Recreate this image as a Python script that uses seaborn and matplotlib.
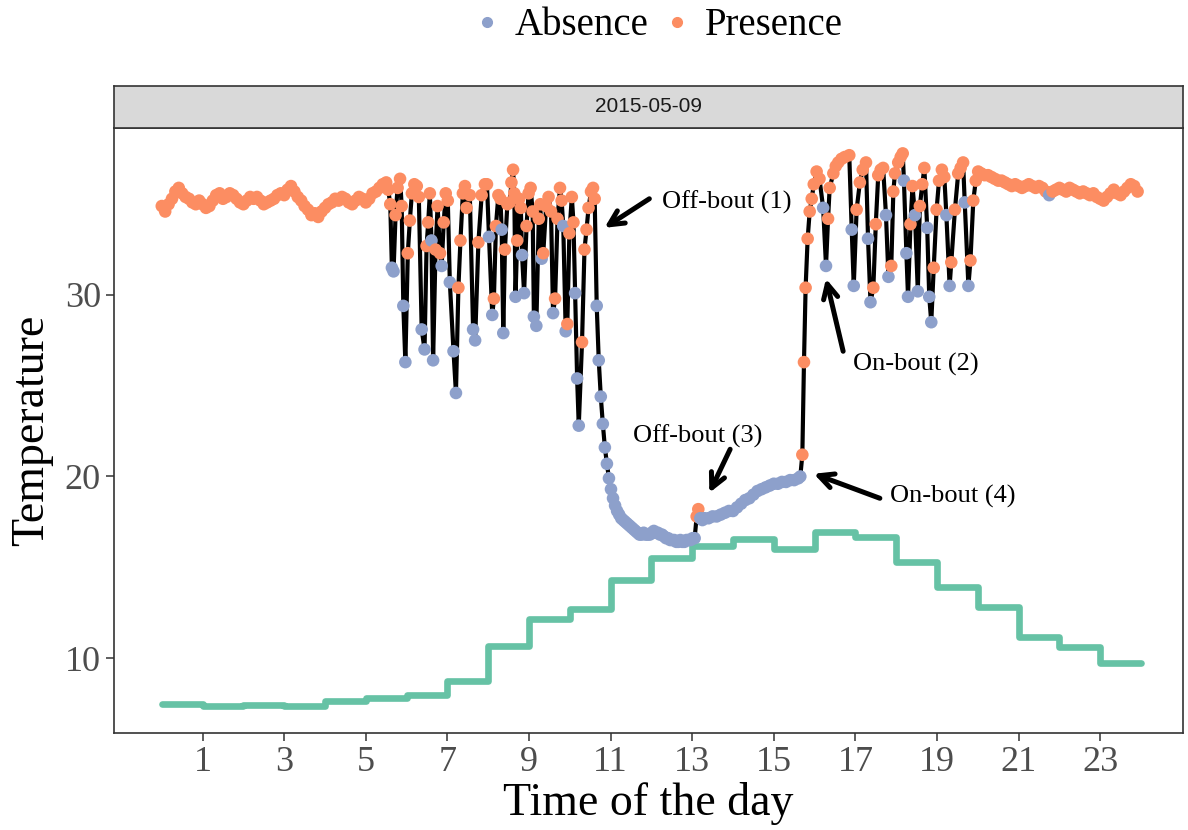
import numpy as np
import pandas as pd
import matplotlib
matplotlib.use("Agg")
import matplotlib.pyplot as plt
from matplotlib.lines import Line2D
import seaborn as sns

# ---- nest temperature, 2015-05-09 ----
# night: one reading every 5 min from 00:00, bird on the nest the whole time
night_temp = [34.9, 34.6, 35.0, 35.3, 35.7, 35.9, 35.6, 35.4, 35.3, 35.1,
              35.0, 35.2, 35.0, 34.8, 34.9, 35.2, 35.5, 35.6, 35.3, 35.4,
              35.6, 35.5, 35.3, 35.1, 35.0, 35.2, 35.4, 35.3, 35.4, 35.2,
              35.0, 35.1, 35.2, 35.3, 35.5, 35.6, 35.5, 35.8, 36.0, 35.7,
              35.4, 35.2, 34.9, 34.7, 34.4, 34.5, 34.3, 34.6, 34.8, 35.0,
              35.1, 35.3, 35.2, 35.4, 35.3, 35.1, 35.0, 35.2, 35.4, 35.3,
              35.1, 35.3, 35.6, 35.7, 35.9, 36.1]

# morning incubation bouts
am_time = [5.50, 5.55, 5.60, 5.64, 5.68, 5.73, 5.78, 5.84, 5.88, 5.92,
           5.97, 6.03, 6.08, 6.13, 6.19, 6.25, 6.30, 6.37, 6.44, 6.49,
           6.53, 6.57, 6.61, 6.65, 6.71, 6.76, 6.82, 6.86, 6.91, 6.96,
           7.01, 7.06, 7.15, 7.21, 7.27, 7.32, 7.38, 7.43, 7.47, 7.55,
           7.63, 7.68, 7.76, 7.84, 7.92, 7.97, 8.02, 8.10, 8.14, 8.19,
           8.25, 8.30, 8.33, 8.37, 8.41, 8.47, 8.53, 8.57, 8.61, 8.64,
           8.67, 8.71, 8.76, 8.80, 8.83, 8.88, 8.94, 8.99, 9.04, 9.09,
           9.12, 9.18, 9.24, 9.28, 9.31, 9.35, 9.42, 9.48, 9.54, 9.59,
           9.64, 9.70, 9.76, 9.80, 9.84, 9.90, 9.94, 9.99, 10.05, 10.09,
           10.13, 10.18, 10.22, 10.30, 10.36, 10.41, 10.46, 10.52, 10.57, 10.61]
am_temp = [36.2, 35.8, 35.0, 31.5, 31.3, 34.4, 35.9, 36.4, 34.9, 29.4,
           26.3, 32.3, 34.1, 35.6, 36.1, 36.0, 35.4, 28.1, 27.0, 32.7,
           34.0, 35.6, 33.0, 26.4, 32.5, 34.9, 32.3, 31.6, 34.0, 35.6,
           35.2, 30.7, 26.9, 24.6, 30.4, 33.0, 35.6, 36.0, 34.8, 35.5,
           28.1, 27.5, 32.9, 35.5, 36.1, 36.1, 33.2, 28.9, 29.8, 33.8,
           35.5, 35.3, 33.6, 27.9, 32.5, 35.0, 35.1, 36.2, 36.9, 35.6,
           29.9, 33.0, 35.3, 34.8, 32.2, 30.1, 33.8, 35.6, 35.9, 34.6,
           28.8, 28.3, 34.2, 35.0, 32.0, 32.3, 34.9, 35.4, 34.6, 29.0,
           29.8, 34.2, 35.9, 35.2, 33.8, 28.0, 28.4, 33.4, 35.4, 34.0,
           30.1, 25.4, 22.8, 27.4, 32.5, 33.6, 34.8, 35.7, 35.9, 35.3]
am_state = ("PPPAAPPPPA" "APPPPPPAAP" "PPAAPPPAPP" "PAAAPPPPPP" "AAPPPPAAPP"
            "PPAAPPPPPP" "APPPAAPPPP" "AAPPAPPPPA" "PPPPAAPPPP" "AAAPPPPPPP")

# long off-bout: cooling, one reading every 3 min from 10:40
cool_temp = [29.4, 26.4, 24.4, 22.9, 21.6, 20.7, 19.9, 19.3, 18.8, 18.4,
             18.1, 17.9, 17.7, 17.6, 17.5, 17.4, 17.3, 17.2, 17.1, 17.0,
             16.9, 16.8, 16.8, 16.9, 16.8, 16.8, 16.8, 16.9, 17.0, 16.9,
             16.9, 16.8, 16.8, 16.7, 16.6, 16.6, 16.5, 16.5, 16.5, 16.4,
             16.4, 16.5, 16.4, 16.4, 16.5, 16.5, 16.5, 16.6, 16.6]

# short visit at 13:06 then egg warming slowly while absent
warm_time = [13.11, 13.15, 13.20, 13.25, 13.30, 13.40, 13.50, 13.60, 13.70, 13.80,
             13.90, 14.00, 14.10, 14.20, 14.30, 14.40, 14.50, 14.60, 14.70, 14.80,
             14.90, 15.00, 15.10, 15.20, 15.30, 15.40, 15.50, 15.60, 15.65]
warm_temp = [17.8, 18.2, 17.7, 17.6, 17.7, 17.7, 17.8, 17.8, 17.9, 18.0,
             18.1, 18.1, 18.3, 18.5, 18.7, 18.8, 19.0, 19.2, 19.3, 19.4,
             19.5, 19.6, 19.6, 19.7, 19.7, 19.8, 19.8, 19.9, 20.0]
warm_state = "PP" + "A" * 27

# afternoon incubation bouts
pm_time = [15.70, 15.74, 15.78, 15.83, 15.88, 15.93, 15.98, 16.05, 16.12, 16.21,
           16.28, 16.33, 16.37, 16.46, 16.52, 16.58, 16.66, 16.74, 16.85, 16.91,
           16.96, 17.03, 17.11, 17.18, 17.26, 17.31, 17.37, 17.44, 17.50, 17.56,
           17.62, 17.68, 17.75, 17.81, 17.88, 17.93, 17.97, 18.05, 18.11, 18.16,
           18.19, 18.25, 18.29, 18.35, 18.40, 18.46, 18.53, 18.58, 18.64, 18.69,
           18.76, 18.81, 18.86, 18.92, 18.99, 19.05, 19.12, 19.18, 19.23, 19.31,
           19.35, 19.44, 19.52, 19.58, 19.64, 19.68, 19.77, 19.82, 19.89, 19.95,
           20.01]
pm_temp = [21.2, 26.3, 30.4, 33.1, 34.6, 35.3, 36.1, 36.8, 36.4, 34.8,
           31.6, 34.2, 35.9, 36.7, 37.1, 37.3, 37.5, 37.6, 37.7, 33.6,
           30.5, 34.7, 36.2, 36.9, 37.3, 33.1, 29.6, 30.4, 33.9, 36.6,
           36.9, 37.0, 34.4, 31.0, 31.6, 35.7, 36.7, 37.3, 37.6, 37.8,
           36.3, 32.3, 29.9, 33.9, 36.0, 34.4, 30.2, 34.9, 36.1, 37.0,
           33.7, 29.9, 28.5, 31.5, 34.7, 36.3, 36.9, 36.5, 34.4, 30.5,
           31.8, 34.7, 36.7, 37.0, 37.3, 35.1, 30.5, 31.9, 35.2, 36.3,
           36.8]
pm_state = ("PPPPPPPPPA" "APPPPPPPPA" "APPPPAAPPP" "PPAAPPPPPP" "AAAPPAAPPP"
            "AAAPPPPPAA" "PPPPPAAPPP" "P")

# evening: one reading every 5 min from 20:05
evening_temp = [36.7, 36.6, 36.6, 36.5, 36.4, 36.3, 36.3, 36.2, 36.1, 36.0,
                36.1, 36.0, 35.9, 36.0, 36.1, 36.0, 35.9, 36.0, 35.9, 35.7,
                35.5, 35.7, 35.8, 35.9, 35.8, 35.7, 35.9, 35.8, 35.7, 35.6,
                35.7, 35.6, 35.5, 35.6, 35.4, 35.3, 35.2, 35.4, 35.6, 35.8,
                35.6, 35.5, 35.7, 35.9, 36.1, 36.0, 35.7]
evening_state = "PPPPPPPPPPPPPPPPPPPPAPPPPPPPPPPPPPPPPPPPPPPPPPP"

# hourly air temperature
air_hour = list(range(24))
air_temp = [7.45, 7.36, 7.41, 7.36, 7.63, 7.78, 7.96, 8.72, 10.66, 12.15,
            12.68, 14.30, 15.53, 16.19, 16.55, 15.99, 16.96, 16.65, 15.31, 13.93,
            12.83, 11.14, 10.59, 9.74]

# ---- assemble ----
step5 = 5 / 60
step3 = 3 / 60
segments = [
    (np.arange(len(night_temp)) * step5, night_temp, "P" * len(night_temp)),
    (am_time, am_temp, am_state),
    (10.66 + np.arange(len(cool_temp)) * step3, cool_temp, "A" * len(cool_temp)),
    (warm_time, warm_temp, warm_state),
    (pm_time, pm_temp, pm_state),
    (20 + step5 + np.arange(len(evening_temp)) * step5, evening_temp, evening_state),
]
frames = []
for t, v, s in segments:
    assert len(t) == len(v) == len(s)
    frames.append(pd.DataFrame({"time": t, "temp": v, "state": list(s)}))
nest = pd.concat(frames, ignore_index=True)
nest["state"] = nest["state"].map({"P": "Presence", "A": "Absence"})

air = pd.DataFrame({"hour": air_hour + [24], "temp": air_temp + [air_temp[-1]]})

colors = {"Absence": "#8DA0CB", "Presence": "#FC8D62"}

sns.set_theme(style="ticks")
plt.rcParams["font.family"] = ["Liberation Serif", "DejaVu Serif"]
plt.rcParams["text.color"] = "black"
plt.rcParams["axes.labelcolor"] = "black"

fig = plt.figure(figsize=(11.88, 8.30), dpi=100)
ax = fig.add_axes([0.0960, 0.1169, 0.8998, 0.7289])
strip = fig.add_axes([0.0960, 0.8458, 0.8998, 0.0506])

sns.lineplot(data=air, x="hour", y="temp", drawstyle="steps-post", color="#66C2A5",
             lw=4.8, ax=ax, zorder=1)
sns.lineplot(data=nest, x="time", y="temp", color="black", lw=3.0, estimator=None,
             sort=True, ax=ax, zorder=2)
sns.scatterplot(data=nest, x="time", y="temp", hue="state", palette=colors, s=82,
                linewidth=0, legend=False, ax=ax, zorder=3)

ax.set_xlim(-1.17, 25.03)
ax.set_ylim(5.87, 39.2)
ax.set_xticks(np.arange(1, 24, 2))
ax.set_yticks([10, 20, 30])
ax.tick_params(axis="both", labelsize=26, labelcolor="#4D4D4D", color="#333333",
               length=6, width=1.1)
ax.set_xlabel("Time of the day", fontsize=33, labelpad=2)
ax.set_ylabel("Temperature", fontsize=33, labelpad=8)
for sp in ax.spines.values():
    sp.set_visible(True)
    sp.set_color("#333333")
    sp.set_linewidth(1.2)

# facet strip
strip.set_facecolor("#D9D9D9")
strip.set_xticks([])
strip.set_yticks([])
for sp in strip.spines.values():
    sp.set_color("#333333")
    sp.set_linewidth(1.2)
strip.text(0.5, 0.5, "2015-05-09", ha="center", va="center", fontsize=15,
           color="#1A1A1A", family=["Liberation Sans", "DejaVu Sans"],
           transform=strip.transAxes)

# bout annotations: label, label position, arrow tail, arrow head
notes = [
    ("Off-bout (1)", (12.26, 35.1), (11.95, 35.3), (10.85, 33.7)),
    ("On-bout (2)", (16.94, 26.2), (16.70, 26.9), (16.28, 30.9)),
    ("Off-bout (3)", (11.55, 22.2), (13.93, 21.5), (13.42, 19.1)),
    ("On-bout (4)", (17.85, 18.9), (17.60, 18.8), (15.98, 20.15)),
]
for label, txy, tail, head in notes:
    ax.annotate("", xy=head, xytext=tail,
                arrowprops=dict(arrowstyle="->", lw=3.6, color="black",
                                mutation_scale=26, shrinkA=0, shrinkB=0))
    ax.text(txy[0], txy[1], label, fontsize=19, ha="left", va="center", color="black")

handles = [Line2D([], [], marker="o", ls="", color=colors[k], markersize=7)
           for k in ["Absence", "Presence"]]
fig.legend(handles, ["Absence", "Presence"], loc="center", bbox_to_anchor=(0.553, 0.969),
           ncol=2, frameon=False, fontsize=28, handletextpad=0.3, columnspacing=0.35,
           handlelength=0.8, labelcolor="black")

fig.savefig("out.png", dpi=100)
